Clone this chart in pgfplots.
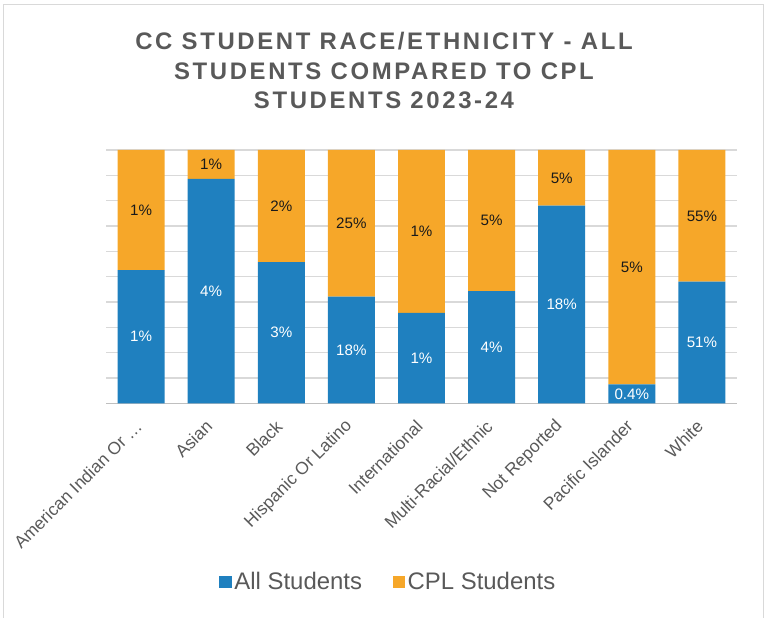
\documentclass[border=0pt]{standalone}
\usepackage{fontspec}
\setmainfont{Liberation Sans}
\newfontfamily\titlefont[LetterSpace=11]{Liberation Sans}
\usepackage{pgfplots}
\usepackage{pgfplotstable}
\pgfplotsset{compat=1.18}
\definecolor{cblue}{RGB}{31,128,191}
\definecolor{corange}{RGB}{246,167,41}
\definecolor{tgray}{RGB}{89,89,89}
\definecolor{ggray}{RGB}{217,217,217}
\definecolor{agray}{RGB}{191,191,191}
\definecolor{lblack}{RGB}{26,26,26}

% share of each bar (100% stacked) and the value printed on it
\pgfplotstableread{
x A la C lc
0 52.6 1 47.4 1
1 88.6 4 11.4 1
2 55.7 3 44.3 2
3 42.1 18 57.9 25
4 35.7 1 64.3 1
5 44.3 4 55.7 5
6 78.0 18 22.0 5
7 7.5 0.4 92.5 5
8 48.0 51 52.0 55
}\data

\begin{document}
\begin{tikzpicture}
\path[use as bounding box] (0,0) rectangle (765bp,618bp);
\draw[ggray, line width=1bp] (3bp,-5bp) -- (3bp,613bp) -- (763bp,613bp) -- (763bp,-5bp);
\node[font=\titlefont\bfseries\fontsize{24}{30}\selectfont, text=tgray, align=center] at (384bp,547.5bp)
  {CC STUDENT RACE/ETHNICITY - ALL\\STUDENTS COMPARED TO CPL\\STUDENTS 2023-24};
\begin{axis}[
  at={(106bp,214.7bp)}, anchor=south west,
  width=631bp, height=253.3bp, scale only axis,
  ybar stacked, bar width=0.67,
  xmin=-0.5, xmax=8.5, ymin=0, ymax=100,
  enlargelimits=false, clip=false,
  axis x line*=bottom, axis y line*=left,
  x axis line style={agray, line width=1.5bp, -},
  y axis line style={draw=none},
  major tick style={draw=none},
  ytick={10,20,...,100}, yticklabels={},
  ymajorgrids, grid style={ggray, line width=1.3bp},
  xtick={0,...,8},
  xticklabels={American Indian Or …, Asian, Black, Hispanic Or Latino, International, Multi-Racial/Ethnic, Not Reported, Pacific Islander, White},
  xticklabel style={font=\fontsize{17.5}{20}\selectfont, text=tgray, anchor=east, inner sep=0pt, yshift=-20bp, xshift=-2bp, rotate=45},
  legend style={at={(0.4477,-0.7055)}, anchor=center, draw=none, fill=none,
    font=\fontsize{24}{28}\selectfont, text=tgray, legend columns=2,
    nodes={inner sep=2.5bp},
    /tikz/every even column/.append style={column sep=28bp}},
  legend image code/.code={\fill[#1] (0bp,-6.3bp) rectangle (12.7bp,6.3bp);},
]
\addplot[fill=cblue, draw=none, point meta=explicit symbolic,
  nodes near coords={\pgfplotspointmeta\%},
  every node near coord/.append style={anchor=center, text=white, font=\fontsize{15.2}{18}\selectfont}]
  table[x=x, y=A, meta=la] {\data};
\addplot[fill=corange, draw=none, point meta=explicit symbolic,
  nodes near coords={\pgfplotspointmeta\%},
  every node near coord/.append style={anchor=center, text=lblack, font=\fontsize{15.2}{18}\selectfont}]
  table[x=x, y=C, meta=lc] {\data};
\legend{All Students, CPL Students}
\end{axis}
\end{tikzpicture}
\end{document}
